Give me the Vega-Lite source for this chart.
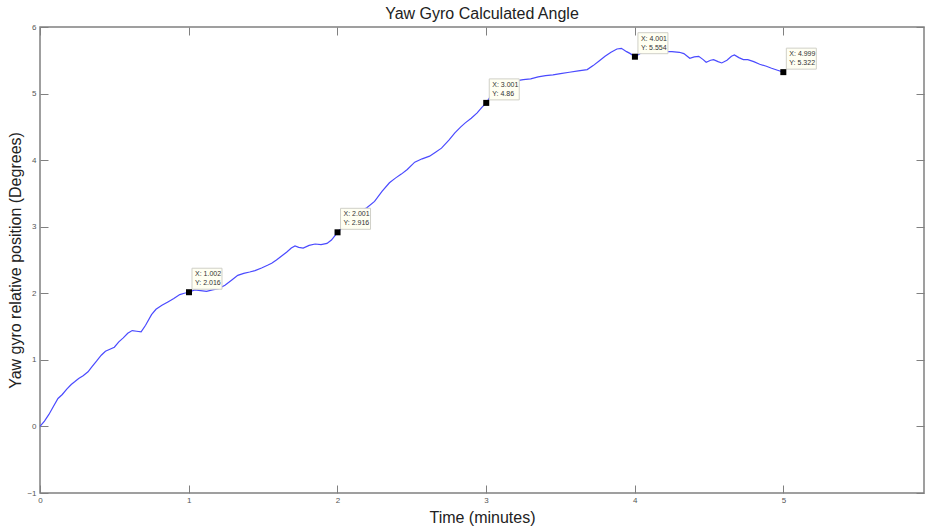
{
  "$schema": "https://vega.github.io/schema/vega-lite/v6.json",
  "width": 884,
  "height": 466,
  "autosize": {"type": "none"},
  "padding": {"left": 40, "top": 27, "right": 1, "bottom": 36},
  "title": {"text": "Yaw Gyro Calculated Angle", "fontSize": 16, "font": "Liberation Sans", "fontWeight": "normal", "color": "#222222", "offset": 1, "anchor": "middle"},
  "config": {
    "view": {"stroke": "#808080", "strokeWidth": 1.5},
    "axis": {
      "domain": false, "grid": false,
      "tickColor": "#808080", "tickWidth": 1, "tickSize": -8,
      "labelColor": "#555555", "labelFont": "Liberation Sans", "labelFontSize": 8, "labelFlush": false,
      "titleFont": "Liberation Sans", "titleFontSize": 16, "titleFontWeight": "normal", "titleColor": "#222222"
    }
  },
  "datasets": {
    "curve": [
      {"t": 0, "deg": 0}, {"t": 0.03, "deg": 0.08}, {"t": 0.06, "deg": 0.18}, {"t": 0.09, "deg": 0.3},
      {"t": 0.121, "deg": 0.42}, {"t": 0.15, "deg": 0.48}, {"t": 0.18, "deg": 0.56}, {"t": 0.21, "deg": 0.63},
      {"t": 0.233, "deg": 0.67}, {"t": 0.26, "deg": 0.72}, {"t": 0.29, "deg": 0.76}, {"t": 0.323, "deg": 0.82},
      {"t": 0.35, "deg": 0.9}, {"t": 0.38, "deg": 0.98}, {"t": 0.412, "deg": 1.07}, {"t": 0.44, "deg": 1.13},
      {"t": 0.47, "deg": 1.16}, {"t": 0.5, "deg": 1.19}, {"t": 0.53, "deg": 1.27}, {"t": 0.56, "deg": 1.33},
      {"t": 0.59, "deg": 1.4}, {"t": 0.62, "deg": 1.44}, {"t": 0.65, "deg": 1.43}, {"t": 0.68, "deg": 1.42},
      {"t": 0.71, "deg": 1.52}, {"t": 0.75, "deg": 1.68}, {"t": 0.78, "deg": 1.76}, {"t": 0.82, "deg": 1.82},
      {"t": 0.86, "deg": 1.87}, {"t": 0.9, "deg": 1.92}, {"t": 0.94, "deg": 1.98}, {"t": 0.97, "deg": 2.0},
      {"t": 1.002, "deg": 2.016}, {"t": 1.04, "deg": 2.05}, {"t": 1.08, "deg": 2.04}, {"t": 1.12, "deg": 2.03},
      {"t": 1.16, "deg": 2.05}, {"t": 1.2, "deg": 2.07}, {"t": 1.244, "deg": 2.12}, {"t": 1.29, "deg": 2.2},
      {"t": 1.33, "deg": 2.27}, {"t": 1.37, "deg": 2.3}, {"t": 1.41, "deg": 2.32}, {"t": 1.446, "deg": 2.34},
      {"t": 1.49, "deg": 2.38}, {"t": 1.53, "deg": 2.42}, {"t": 1.558, "deg": 2.45}, {"t": 1.59, "deg": 2.5},
      {"t": 1.625, "deg": 2.56}, {"t": 1.66, "deg": 2.62}, {"t": 1.69, "deg": 2.68}, {"t": 1.715, "deg": 2.71},
      {"t": 1.74, "deg": 2.69}, {"t": 1.77, "deg": 2.68}, {"t": 1.81, "deg": 2.72}, {"t": 1.85, "deg": 2.74},
      {"t": 1.89, "deg": 2.73}, {"t": 1.93, "deg": 2.75}, {"t": 1.96, "deg": 2.8}, {"t": 2.001, "deg": 2.916},
      {"t": 2.05, "deg": 3.03}, {"t": 2.1, "deg": 3.14}, {"t": 2.15, "deg": 3.22}, {"t": 2.2, "deg": 3.29},
      {"t": 2.25, "deg": 3.38}, {"t": 2.3, "deg": 3.53}, {"t": 2.35, "deg": 3.66}, {"t": 2.39, "deg": 3.73},
      {"t": 2.43, "deg": 3.79}, {"t": 2.47, "deg": 3.86}, {"t": 2.52, "deg": 3.97}, {"t": 2.57, "deg": 4.02},
      {"t": 2.62, "deg": 4.06}, {"t": 2.66, "deg": 4.12}, {"t": 2.7, "deg": 4.18}, {"t": 2.75, "deg": 4.3},
      {"t": 2.79, "deg": 4.41}, {"t": 2.83, "deg": 4.5}, {"t": 2.86, "deg": 4.56}, {"t": 2.9, "deg": 4.63},
      {"t": 2.94, "deg": 4.71}, {"t": 2.97, "deg": 4.79}, {"t": 3.001, "deg": 4.86}, {"t": 3.05, "deg": 5.03},
      {"t": 3.1, "deg": 5.12}, {"t": 3.15, "deg": 5.17}, {"t": 3.2, "deg": 5.19}, {"t": 3.25, "deg": 5.21},
      {"t": 3.3, "deg": 5.22}, {"t": 3.35, "deg": 5.25}, {"t": 3.4, "deg": 5.27}, {"t": 3.45, "deg": 5.28},
      {"t": 3.5, "deg": 5.3}, {"t": 3.56, "deg": 5.32}, {"t": 3.62, "deg": 5.34}, {"t": 3.68, "deg": 5.36},
      {"t": 3.72, "deg": 5.42}, {"t": 3.76, "deg": 5.49}, {"t": 3.8, "deg": 5.56}, {"t": 3.84, "deg": 5.62},
      {"t": 3.88, "deg": 5.67}, {"t": 3.91, "deg": 5.68}, {"t": 3.945, "deg": 5.63}, {"t": 3.97, "deg": 5.6},
      {"t": 4.001, "deg": 5.554}, {"t": 4.05, "deg": 5.62}, {"t": 4.1, "deg": 5.63}, {"t": 4.15, "deg": 5.64},
      {"t": 4.2, "deg": 5.63}, {"t": 4.25, "deg": 5.63}, {"t": 4.3, "deg": 5.62}, {"t": 4.33, "deg": 5.6},
      {"t": 4.37, "deg": 5.53}, {"t": 4.4, "deg": 5.55}, {"t": 4.43, "deg": 5.56}, {"t": 4.46, "deg": 5.51},
      {"t": 4.48, "deg": 5.47}, {"t": 4.51, "deg": 5.5}, {"t": 4.53, "deg": 5.51}, {"t": 4.56, "deg": 5.48},
      {"t": 4.585, "deg": 5.46}, {"t": 4.62, "deg": 5.5}, {"t": 4.65, "deg": 5.56}, {"t": 4.67, "deg": 5.58},
      {"t": 4.7, "deg": 5.54}, {"t": 4.73, "deg": 5.51}, {"t": 4.76, "deg": 5.51}, {"t": 4.8, "deg": 5.48},
      {"t": 4.84, "deg": 5.44}, {"t": 4.885, "deg": 5.41}, {"t": 4.92, "deg": 5.38}, {"t": 4.96, "deg": 5.35},
      {"t": 4.999, "deg": 5.322}
    ],
    "tips": [
      {"t": 1.002, "deg": 2.016, "lx": "X: 1.002", "ly": "Y: 2.016"},
      {"t": 2.001, "deg": 2.916, "lx": "X: 2.001", "ly": "Y: 2.916"},
      {"t": 3.001, "deg": 4.86, "lx": "X: 3.001", "ly": "Y: 4.86"},
      {"t": 4.001, "deg": 5.554, "lx": "X: 4.001", "ly": "Y: 5.554"},
      {"t": 4.999, "deg": 5.322, "lx": "X: 4.999", "ly": "Y: 5.322"}
    ]
  },
  "layer": [
    {
      "data": {"name": "curve"},
      "mark": {"type": "line", "color": "#4a4aff", "strokeWidth": 1.2},
      "encoding": {
        "x": {"field": "t", "type": "quantitative", "scale": {"domain": [0, 5.945], "nice": false, "zero": false},
              "axis": {"orient": "bottom", "values": [0, 1, 2, 3, 4, 5], "title": "Time (minutes)", "labelPadding": 11, "titlePadding": 5}},
        "y": {"field": "deg", "type": "quantitative", "scale": {"domain": [-1, 6], "nice": false, "zero": false},
              "axis": {"orient": "left", "values": [-1, 0, 1, 2, 3, 4, 5, 6], "title": "Yaw gyro relative position (Degrees)", "labelPadding": 12, "titlePadding": 3}}
      }
    },
    {
      "data": {"name": "tips"},
      "mark": {"type": "point", "shape": "M3,-24L33,-24L33,-3L3,-3Z", "size": 4, "filled": true, "fill": "#fffff2", "stroke": "#d0d0c8", "strokeWidth": 1, "opacity": 1},
      "encoding": {
        "x": {"field": "t", "type": "quantitative", "scale": {"domain": [0, 5.945], "nice": false, "zero": false},
              "axis": {"orient": "top", "values": [0, 1, 2, 3, 4, 5], "labels": false, "title": null}},
        "y": {"field": "deg", "type": "quantitative", "scale": {"domain": [-1, 6], "nice": false, "zero": false},
              "axis": {"orient": "right", "values": [-1, 0, 1, 2, 3, 4, 5, 6], "labels": false, "title": null}}
      }
    },
    {
      "data": {"name": "tips"},
      "mark": {"type": "square", "color": "#000000", "size": 36, "opacity": 1},
      "encoding": {
        "x": {"field": "t", "type": "quantitative", "axis": null},
        "y": {"field": "deg", "type": "quantitative", "axis": null}
      }
    },
    {
      "data": {"name": "tips"},
      "mark": {"type": "text", "align": "left", "baseline": "middle", "dx": 6, "dy": -18, "fontSize": 7, "font": "Liberation Sans", "color": "#333333"},
      "encoding": {
        "x": {"field": "t", "type": "quantitative", "axis": null},
        "y": {"field": "deg", "type": "quantitative", "axis": null},
        "text": {"field": "lx"}
      }
    },
    {
      "data": {"name": "tips"},
      "mark": {"type": "text", "align": "left", "baseline": "middle", "dx": 6, "dy": -9, "fontSize": 7, "font": "Liberation Sans", "color": "#333333"},
      "encoding": {
        "x": {"field": "t", "type": "quantitative", "axis": null},
        "y": {"field": "deg", "type": "quantitative", "axis": null},
        "text": {"field": "ly"}
      }
    }
  ],
  "resolve": {"axis": {"x": "independent", "y": "independent"}}
}
